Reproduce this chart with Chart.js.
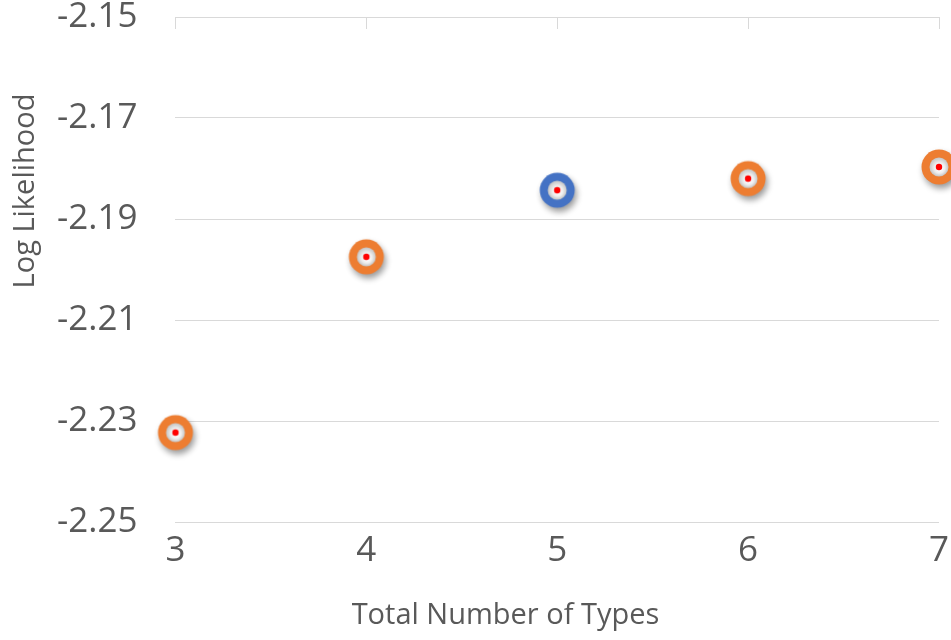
<!DOCTYPE html>
<html>
<head>
<meta charset="utf-8">
<title>Log Likelihood by Number of Types</title>
<script src="https://cdn.jsdelivr.net/npm/chart.js@4"></script>
<style>
  html, body { margin: 0; padding: 0; background: #ffffff; }
  #wrap { width: 951px; height: 640px; position: relative; }
</style>
</head>
<body>
<div id="wrap"><canvas id="grafico"></canvas></div>
<script>
// number of types tried and the log likelihood of each fit
const numTipos = [3, 4, 5, 6, 7];
const logVerossim = [-2.2323, -2.1975, -2.1843, -2.1820, -2.1797];
const coresMarcador = ['#ED7D31', '#ED7D31', '#4472C4', '#ED7D31', '#ED7D31'];

const yMin = -2.25, yMax = -2.15, yPasso = 0.02;

const corTexto = '#595959';
const corGrade = '#d9d9d9';
const fonte = "'Open Sans', 'DejaVu Sans', sans-serif";

// ring marker with soft shadow, grey inner disc and red centre dot
function criarMarcador(cor) {
  const c = document.createElement('canvas');
  c.width = 56; c.height = 56;
  const g = c.getContext('2d');
  const cx = 28, cy = 28;

  g.save();
  g.shadowColor = 'rgba(0,0,0,0.4)';
  g.shadowBlur = 6;
  g.shadowOffsetX = 2;
  g.shadowOffsetY = 4;
  g.beginPath();
  g.arc(cx, cy, 17.5, 0, Math.PI * 2);
  g.fillStyle = cor;
  g.fill();
  g.restore();

  const grad = g.createRadialGradient(cx + 1, cy + 2, 1, cx, cy, 9.5);
  grad.addColorStop(0, '#ffffff');
  grad.addColorStop(0.5, '#eeeeee');
  grad.addColorStop(1, '#c4c4c4');
  g.beginPath();
  g.arc(cx, cy, 9.5, 0, Math.PI * 2);
  g.fillStyle = grad;
  g.fill();

  g.beginPath();
  g.arc(cx, cy, 3.2, 0, Math.PI * 2);
  g.fillStyle = '#ff0000';
  g.fill();
  return c;
}

const marcadores = coresMarcador.map(criarMarcador);

// short tick marks hanging from the top gridline, plus both axis titles
const extras = {
  id: 'extras',
  afterDraw(chart) {
    const ctx = chart.ctx;
    const area = chart.chartArea;
    const x = chart.scales.x;
    ctx.save();
    ctx.strokeStyle = corGrade;
    ctx.lineWidth = 1;
    x.ticks.forEach(t => {
      const px = Math.round(x.getPixelForValue(t.value)) + 0.5;
      ctx.beginPath();
      ctx.moveTo(px, area.top);
      ctx.lineTo(px, area.top + 12);
      ctx.stroke();
    });

    ctx.fillStyle = corTexto;
    ctx.font = '29px ' + fonte;
    ctx.textAlign = 'center';
    ctx.textBaseline = 'middle';
    ctx.fillText('Total Number of Types', area.left + 330, area.bottom + 94);

    ctx.translate(area.left - 150, area.top + 174);
    ctx.rotate(-Math.PI / 2);
    ctx.fillText('Log Likelihood', 0, 0);
    ctx.restore();
  }
};

new Chart(document.getElementById('grafico'), {
  type: 'scatter',
  data: {
    datasets: [{
      label: 'Log Likelihood',
      data: numTipos.map((n, i) => ({ x: n, y: logVerossim[i] })),
      pointStyle: ctx => marcadores[ctx.dataIndex],
      pointHoverStyle: ctx => marcadores[ctx.dataIndex],
      clip: false
    }]
  },
  options: {
    responsive: true,
    maintainAspectRatio: false,
    animation: false,
    layout: { autoPadding: false, padding: { left: 57, top: 17, right: 12, bottom: 68 } },
    plugins: {
      legend: { display: false },
      tooltip: { enabled: false }
    },
    scales: {
      x: {
        type: 'linear',
        min: 3,
        max: 7,
        grid: { display: false },
        border: { display: false },
        ticks: {
          stepSize: 1,
          padding: 0,
          color: corTexto,
          font: { family: fonte, size: 35 }
        }
      },
      y: {
        min: yMin,
        max: yMax,
        // invisible tick marks give the gap between labels and plot
        grid: { color: corGrade, lineWidth: 1, drawTicks: true, tickLength: 38, tickColor: 'rgba(0,0,0,0)' },
        border: { display: false },
        ticks: {
          stepSize: yPasso,
          padding: 0,
          color: corTexto,
          font: { family: fonte, size: 35, lineHeight: 0.9 },
          callback: v => v.toFixed(2)
        }
      }
    }
  },
  plugins: [extras]
});
</script>
</body>
</html>
